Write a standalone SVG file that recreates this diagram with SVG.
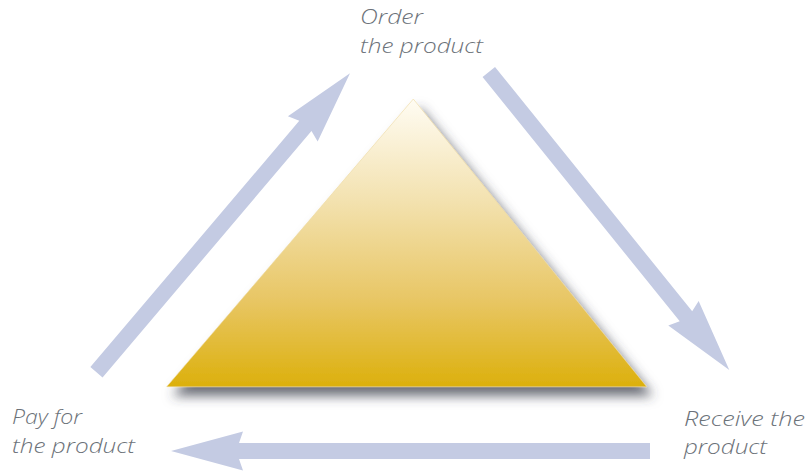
<svg xmlns="http://www.w3.org/2000/svg" width="809" height="471" viewBox="0 0 809 471">
  <style>
    .arrow { fill: #c4cbe3; }
    .label { font-family: "Open Sans", "Liberation Sans", sans-serif; font-style: italic; font-weight: 300; font-size: 20.5px; fill: #6c7279; }
  </style>
  <defs>
    <linearGradient id="goldFill" x1="0" y1="0" x2="0" y2="1">
      <stop offset="0" stop-color="#fffcf3"/>
      <stop offset="0.35" stop-color="#f3e2b0"/>
      <stop offset="0.7" stop-color="#e8c664"/>
      <stop offset="1" stop-color="#dcb00c"/>
    </linearGradient>
    <filter id="softShadow" x="-10%" y="-10%" width="130%" height="130%">
      <feDropShadow dx="6" dy="9" stdDeviation="6" flood-color="#3a3d4a" flood-opacity="0.75"/>
    </filter>
  </defs>

  <rect width="809" height="471" fill="#ffffff"/>

  <g id="pyramid">
    <polygon points="413.3,99 646.7,386.7 166.7,386.7" fill="url(#goldFill)" stroke="#ecd9a0" stroke-width="0.6" filter="url(#softShadow)"/>
  </g>

  <!-- block arrows: drawn pointing along +x with the tip at the origin, then placed -->
  <g id="connectors" class="arrow">
    <!-- pay -> order -->
    <path transform="translate(350,73.3) rotate(-49.7)" d="M0,0 L-73,-19.5 L-69,-8 L-392,-8 L-392,8 L-69,8 L-73,19.5 Z"/>
    <!-- order -> receive -->
    <path transform="translate(729.3,370) rotate(51.1)" d="M0,0 L-73,-19.5 L-69,-8 L-383,-8 L-383,8 L-69,8 L-73,19.5 Z"/>
    <!-- receive -> pay -->
    <path transform="translate(171,451) rotate(180)" d="M0,0 L-72,-19.5 L-68,-8 L-479,-8 L-479,8 L-68,8 L-72,19.5 Z"/>
  </g>

  <g id="order">
    <text class="label"><tspan x="360" y="24" textLength="63" lengthAdjust="spacingAndGlyphs">Order</tspan><tspan x="360" y="52.5" textLength="123" lengthAdjust="spacingAndGlyphs">the product</tspan></text>
  </g>

  <g id="receive">
    <text class="label"><tspan x="684" y="425.7" textLength="121" lengthAdjust="spacingAndGlyphs">Receive the</tspan><tspan x="684" y="454.2" textLength="83" lengthAdjust="spacingAndGlyphs">product</tspan></text>
  </g>

  <g id="pay">
    <text class="label"><tspan x="12" y="424.3" textLength="70" lengthAdjust="spacingAndGlyphs">Pay for</tspan><tspan x="12" y="452.8" textLength="123" lengthAdjust="spacingAndGlyphs">the product</tspan></text>
  </g>
</svg>
